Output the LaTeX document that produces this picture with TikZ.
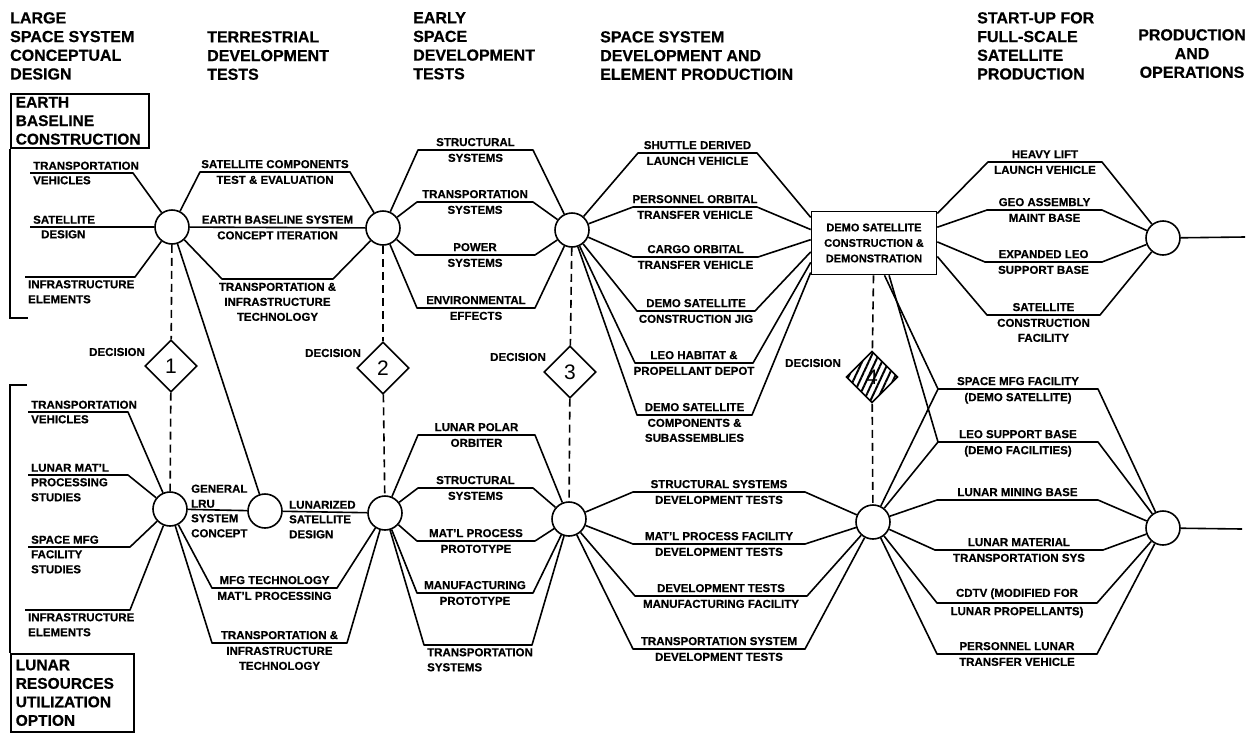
\documentclass[tikz,border=0pt]{standalone}
\usepackage{fontspec}
\setmainfont{Liberation Sans}[BoldFeatures={FakeBold=0.6}]
\usetikzlibrary{shapes.geometric,patterns.meta}

\tikzset{
  hub/.style={circle,draw,line width=1.6pt,minimum size=34pt,inner sep=0pt},
  gate/.style={diamond,draw,line width=1.6pt,minimum width=52pt,minimum height=52pt,inner sep=0pt,font=\fontsize{21}{21}\selectfont},
  wire/.style={line width=1.6pt,line join=round},
  vdash/.style={line width=1.6pt,dash pattern=on 8pt off 5pt},
  lbl/.style={font=\fontsize{11.5}{15}\selectfont\bfseries,inner sep=3pt,align=center},
  colhead/.style={font=\fontsize{16}{18.7}\selectfont\bfseries,inner sep=0pt,align=left,anchor=north west},
  optbox/.style={draw,line width=1.5pt,font=\fontsize{15.5}{18.5}\selectfont\bfseries,align=left,inner xsep=5pt,inner ysep=0pt,anchor=north west},
}

\begin{document}
\begin{tikzpicture}[x=1pt,y=-1pt]
        \useasboundingbox (0,0) rectangle (1256,734);
        % column titles
        \node[colhead] (h1) at (10,12) {LARGE\\SPACE SYSTEM\\CONCEPTUAL\\DESIGN};
        \node[colhead] (h2) at (207,31) {TERRESTRIAL\\DEVELOPMENT\\TESTS};
        \node[colhead] (h3) at (413,12) {EARLY\\SPACE\\DEVELOPMENT\\TESTS};
        \node[colhead] (h4) at (600,31) {SPACE SYSTEM\\DEVELOPMENT AND\\ELEMENT PRODUCTIOIN};
        \node[colhead] (h5) at (977,12) {START-UP FOR\\FULL-SCALE\\SATELLITE\\PRODUCTION};
        \node[colhead,align=center,anchor=north] (h6) at (1192,29) {PRODUCTION\\AND\\OPERATIONS};

        % the two options
        \node[optbox,text width=128pt,minimum height=54pt] (earth) at (10,93) {EARTH\\BASELINE\\CONSTRUCTION};
        \coordinate (earthend) at (28,318);
        \draw[line width=1.5pt] (earth.south west) |- (earthend);
        \node[optbox,text width=113pt,minimum height=78pt] (lunar) at (10,653) {LUNAR\\RESOURCES\\UTILIZATION\\OPTION};
        \coordinate (lunartop) at (27,385);
        \draw[line width=1.5pt] (lunartop) -| (lunar.north west);

        % hubs
        \node[hub] (c1) at (172,227) {};
        \node[hub] (c2) at (383,228) {};
        \node[hub] (c3) at (572,230) {};
        \node[draw,line width=1.6pt,minimum width=125pt,minimum height=63pt,align=center,
              font=\fontsize{11}{15.5}\selectfont\bfseries] (demo) at (874,243)
              {DEMO SATELLITE\\CONSTRUCTION \&\\DEMONSTRATION};
        \node[hub] (c4) at (1163,238) {};
        \node[hub] (c5) at (170,509) {};
        \node[hub] (lru) at (265,511) {};
        \node[hub] (c6) at (385,513) {};
        \node[hub] (c7) at (569,519) {};
        \node[hub] (c8) at (873,522) {};
        \node[hub] (c9) at (1163,528) {};

        % decisions
        \node[gate] (d1) at (171,366) {1};
        \node[gate] (d2) at (383,368) {2};
        \node[gate] (d3) at (570,372) {3};
        \node[gate,pattern={Lines[angle=65,distance=6pt,line width=2pt]}] (d4) at (872,377) {4};
        \node[lbl,anchor=east] (q1) at (148,352) {DECISION};
        \node[lbl,anchor=east] (q2) at (364,353) {DECISION};
        \node[lbl,anchor=east] (q3) at (549,357) {DECISION};
        \node[lbl,anchor=east] (q4) at (844,363) {DECISION};
        \draw[vdash] (c1) -- (d1);
        \draw[vdash] (d1) -- (c5);
        \draw[vdash] (c2) -- (d2);
        \draw[vdash] (d2) -- (c6);
        \draw[vdash] (c3) -- (d3);
        \draw[vdash] (d3) -- (c7);
        \draw[vdash] (demo) -- (d4);
        \draw[vdash] (d4) -- (c8);

        % earth baseline, conceptual design
        \node[lbl,anchor=south west] (tv1) at (30,173) {TRANSPORTATION};
        \node[lbl,anchor=north west] (tv2) at (30,173) {VEHICLES};
        \draw[wire] (tv1.south west) -- (133,173) -- (c1);
        \node[lbl,anchor=south west] (sd1) at (30,227) {SATELLITE};
        \node[lbl,anchor=north west] (sd2) at (38,227) {DESIGN};
        \draw[wire] (sd1.south west) -- (c1);
        \node[lbl,anchor=north west,align=left] (ie1) at (25,277) {INFRASTRUCTURE\\ELEMENTS};
        \draw[wire] (ie1.north west) -- (135,277) -- (c1);

        % earth baseline, terrestrial tests
        \draw[wire] (c1) -- (200,172) -- node[lbl,above] (sc1) {SATELLITE COMPONENTS}
            node[lbl,below] (sc2) {TEST \& EVALUATION} (350,172) -- (c2);
        \draw[wire] (c1) -- node[lbl,above] (eb1) {EARTH BASELINE SYSTEM}
            node[lbl,below] (eb2) {CONCEPT ITERATION} (c2);
        \draw[wire] (c1) -- (222,279) -- node[lbl,below] (ti1) {TRANSPORTATION \&\\INFRASTRUCTURE\\TECHNOLOGY}
            (333,279) -- (c2);
        \draw[wire] (c1) -- (lru);

        % earth baseline, early space tests
        \draw[wire] (c2) -- (418,150) -- node[lbl,above] (ss1) {STRUCTURAL}
            node[lbl,below] (ss2) {SYSTEMS} (533,150) -- (c3);
        \draw[wire] (c2) -- (417,202) -- node[lbl,above] (ts1) {TRANSPORTATION}
            node[lbl,below] (ts2) {SYSTEMS} (533,202) -- (c3);
        \draw[wire] (c2) -- (415,255) -- node[lbl,above] (ps1) {POWER}
            node[lbl,below] (ps2) {SYSTEMS} (535,255) -- (c3);
        \draw[wire] (c2) -- (417,308) -- node[lbl,above] (ef1) {ENVIRONMENTAL}
            node[lbl,below] (ef2) {EFFECTS} (535,308) -- (c3);

        % earth baseline, element production
        \draw[wire] (c3) -- (638,153) -- node[lbl,above] (sh1) {SHUTTLE DERIVED}
            node[lbl,below] (sh2) {LAUNCH VEHICLE} (757,153) -- (demo.158);
        \draw[wire] (c3) -- (633,207) -- node[lbl,above] (po1) {PERSONNEL ORBITAL}
            node[lbl,below] (po2) {TRANSFER VEHICLE} (757,207) -- (demo.168);
        \draw[wire] (c3) -- (633,257) -- node[lbl,above] (co1) {CARGO ORBITAL}
            node[lbl,below] (co2) {TRANSFER VEHICLE} (758,257) -- (demo.177);
        \draw[wire] (c3) -- (637,311) -- node[lbl,above] (cj1) {DEMO SATELLITE}
            node[lbl,below] (cj2) {CONSTRUCTION JIG} (755,311) -- (demo.188);
        \draw[wire] (c3) -- (635,363) -- node[lbl,above] (lh1) {LEO HABITAT \&}
            node[lbl,below] (lh2) {PROPELLANT DEPOT} (753,363) -- (demo.197);
        \draw[wire] (c3) -- (637,415) -- node[lbl,above] (ds1) {DEMO SATELLITE}
            node[lbl,below] (ds2) {COMPONENTS \&\\SUBASSEMBLIES} (752,415) -- (demo.205);

        % earth baseline, start-up
        \draw[wire] (demo.25) -- (988,162) -- node[lbl,above] (hl1) {HEAVY LIFT}
            node[lbl,below] (hl2) {LAUNCH VEHICLE} (1102,162) -- (c4);
        \draw[wire] (demo.14) -- (987,210) -- node[lbl,above] (ga1) {GEO ASSEMBLY}
            node[lbl,below] (ga2) {MAINT BASE} (1102,210) -- (c4);
        \draw[wire] (demo.1) -- (985,262) -- node[lbl,above] (el1) {EXPANDED LEO}
            node[lbl,below] (el2) {SUPPORT BASE} (1102,262) -- (c4);
        \draw[wire] (demo.348) -- (987,315) -- node[lbl,above] (cf1) {SATELLITE}
            node[lbl,below] (cf2) {CONSTRUCTION\\FACILITY} (1100,315) -- (c4);
        \coordinate (out1) at (1245,237);
        \draw[wire] (c4) -- (out1);

        % lunar option, conceptual design
        \node[lbl,anchor=south west] (lv1) at (28,412) {TRANSPORTATION};
        \node[lbl,anchor=north west] (lv2) at (28,412) {VEHICLES};
        \draw[wire] (lv1.south west) -- (128,412) -- (c5);
        \node[lbl,anchor=south west] (lm1) at (28,475) {LUNAR MAT'L};
        \node[lbl,anchor=north west,align=left] (lm2) at (28,475) {PROCESSING\\STUDIES};
        \draw[wire] (lm1.south west) -- (128,475) -- (c5);
        \node[lbl,anchor=south west] (sm1) at (28,547) {SPACE MFG};
        \node[lbl,anchor=north west,align=left] (sm2) at (28,547) {FACILITY\\STUDIES};
        \draw[wire] (sm1.south west) -- (130,547) -- (c5);
        \node[lbl,anchor=north west,align=left] (ie2) at (25,610) {INFRASTRUCTURE\\ELEMENTS};
        \draw[wire] (ie2.north west) -- (130,610) -- (c5);

        % lunar option, terrestrial tests
        \draw[wire] (c5) -- (lru);
        \node[lbl,anchor=south west,align=left] (gl1) at (188,511) {GENERAL\\LRU};
        \node[lbl,anchor=north west,align=left] (gl2) at (188,511) {SYSTEM\\CONCEPT};
        \draw[wire] (lru) -- (c6);
        \node[lbl,anchor=south west] (lz1) at (286,512) {LUNARIZED};
        \node[lbl,anchor=north west,align=left] (lz2) at (286,512) {SATELLITE\\DESIGN};
        \draw[wire] (c5) -- (212,588) -- node[lbl,above] (mt1) {MFG TECHNOLOGY}
            node[lbl,below] (mt2) {MAT'L PROCESSING} (337,588) -- (c6);
        \draw[wire] (c5) -- (212,643) -- node[lbl,above] (tl1) {TRANSPORTATION \&}
            node[lbl,below] (tl2) {INFRASTRUCTURE\\TECHNOLOGY} (347,643) -- (c6);

        % lunar option, early space tests
        \draw[wire] (c6) -- (418,435) -- node[lbl,above] (lp1) {LUNAR POLAR}
            node[lbl,below] (lp2) {ORBITER} (535,435) -- (c7);
        \draw[wire] (c6) -- (418,488) -- node[lbl,above] (ls1) {STRUCTURAL}
            node[lbl,below] (ls2) {SYSTEMS} (533,488) -- (c7);
        \draw[wire] (c6) -- (417,541) -- node[lbl,above] (mp1) {MAT'L PROCESS}
            node[lbl,below] (mp2) {PROTOTYPE} (535,541) -- (c7);
        \draw[wire] (c6) -- (417,593) -- node[lbl,above] (mf1) {MANUFACTURING}
            node[lbl,below] (mf2) {PROTOTYPE} (533,593) -- (c7);
        \node[lbl,anchor=north west,align=left] (lt1) at (424,645) {TRANSPORTATION\\SYSTEMS};
        \draw[wire] (c6) -- (lt1.north west) -- (532,645) -- (c7);

        % lunar option, development tests
        \draw[wire] (c7) -- (633,492) -- node[lbl,above] (sd3) {STRUCTURAL SYSTEMS}
            node[lbl,below] (sd4) {DEVELOPMENT TESTS} (805,492) -- (c8);
        \draw[wire] (c7) -- (633,544) -- node[lbl,above] (pf1) {MAT'L PROCESS FACILITY}
            node[lbl,below] (pf2) {DEVELOPMENT TESTS} (805,544) -- (c8);
        \draw[wire] (c7) -- (635,596) -- node[lbl,above] (dt1) {DEVELOPMENT TESTS}
            node[lbl,below] (dt2) {MANUFACTURING FACILITY} (807,596) -- (c8);
        \draw[wire] (c7) -- (633,649) -- node[lbl,above] (tt1) {TRANSPORTATION SYSTEM}
            node[lbl,below] (tt2) {DEVELOPMENT TESTS} (805,649) -- (c8);

        % lunar option, start-up
        \draw[wire] (demo.288) -- (938,389) -- node[lbl,above] (sf1) {SPACE MFG FACILITY}
            node[lbl,below] (sf2) {(DEMO SATELLITE)} (1098,389) -- (c9);
        \draw[wire] (c8) -- (938,389);
        \draw[wire] (demo.295) -- (938,442) -- node[lbl,above] (lb1) {LEO SUPPORT BASE}
            node[lbl,below] (lb2) {(DEMO FACILITIES)} (1098,442) -- (c9);
        \draw[wire] (c8) -- (938,442);
        \draw[wire] (c8) -- (937,500) -- node[lbl,above] (mb1) {LUNAR MINING BASE} (1098,500) -- (c9);
        \draw[wire] (c8) -- (935,550) -- node[lbl,above] (lmt1) {LUNAR MATERIAL}
            node[lbl,below] (lmt2) {TRANSPORTATION SYS} (1103,550) -- (c9);
        \draw[wire] (c8) -- (937,603) -- node[lbl,above] (cd1) {CDTV (MODIFIED FOR}
            node[lbl,below] (cd2) {LUNAR PROPELLANTS)} (1097,603) -- (c9);
        \draw[wire] (c8) -- (937,654) -- node[lbl,above] (pl1) {PERSONNEL LUNAR}
            node[lbl,below] (pl2) {TRANSFER VEHICLE} (1097,654) -- (c9);
        \coordinate (out2) at (1242,529);
        \draw[wire] (c9) -- (out2);
\end{tikzpicture}
\end{document}
